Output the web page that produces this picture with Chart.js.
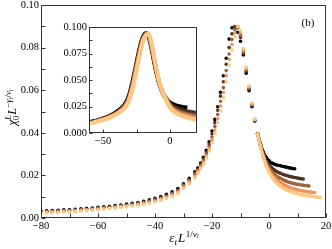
<!DOCTYPE html>
<html><head><meta charset="utf-8">
<script src="https://cdn.jsdelivr.net/npm/chart.js@4/dist/chart.umd.min.js"></script>
<style>
html,body{margin:0;padding:0;background:#fff;}
#wrap{position:relative;width:332px;height:249px;overflow:hidden;}
#main{position:absolute;left:0;top:0;}
#inset{position:absolute;left:55px;top:20px;}
</style>
</head><body>
<div id="wrap"><canvas id="main" width="332" height="249"></canvas><canvas id="inset" width="145" height="130"></canvas></div>
<script>
// ---------- DATA (main panel) ----------
const xMain = [-80,-78,-76,-74,-72,-70,-68,-66,-64,-62,-60,-58,-56,-54,-52,-50,-48,-46,-44,-42,-40,-38,-36,-34,-32,-30,-28,-26,
  -25,-24,-23,-22,-21,-20,-19,-18,-17,-16,-15,-14,-13,-12,-11,-10,-9,-8,-7,-6,-5,-4,-3,-2,-1,0,1,2,3,4,5,6,7,8,9,10,11,12,13,14,15,16,17,18];
const mainS1 = [0.0033,0.0034,0.0035,0.0036,0.0038,0.0039,0.0041,0.0043,0.0045,0.0047,0.0050,0.0052,0.0055,0.0058,0.0061,0.0065,0.0069,0.0073,0.0078,0.0085,0.0092,0.0101,0.0111,0.0123,0.0138,0.0160,0.0186,0.0217,
  0.0235,0.0258,0.0285,0.0318,0.0358,0.0408,0.0463,0.0522,0.0590,0.0668,0.0750,0.0840,0.0893,0.0898,0.0872,0.0830,0.0765,0.0680,0.0598,0.0522,0.0455,0.0397,0.0348,0.0310,0.0285,
  0.0268,0.0258,0.0252,0.0248,0.0245,0.0242,0.0239,0.0236,0.0233,0.0231];
const mainS2 = [0.0030,0.0031,0.0032,0.0033,0.0035,0.0036,0.0038,0.0040,0.0042,0.0044,0.0047,0.0049,0.0052,0.0055,0.0058,0.0062,0.0066,0.0070,0.0075,0.0081,0.0088,0.0097,0.0106,0.0118,0.0133,0.0156,0.0181,0.0211,
  0.0230,0.0253,0.0279,0.0310,0.0348,0.0395,0.0448,0.0506,0.0572,0.0640,0.0722,0.0800,0.0865,0.0897,0.0893,0.0848,0.0772,0.0688,0.0604,0.0527,0.0458,0.0396,0.0342,0.0300,0.0270,
  0.0250,0.0235,0.0224,0.0216,0.0210,0.0204,0.0200,0.0196,0.0193,0.0190,0.0188,0.0185,0.0183];
const mainS3 = [0.0028,0.0029,0.0030,0.0031,0.0033,0.0034,0.0036,0.0038,0.0040,0.0042,0.0045,0.0047,0.0050,0.0053,0.0056,0.0059,0.0063,0.0067,0.0072,0.0078,0.0085,0.0093,0.0102,0.0114,0.0128,0.0152,0.0176,0.0205,
  0.0224,0.0246,0.0271,0.0301,0.0337,0.0380,0.0430,0.0486,0.0548,0.0612,0.0692,0.0770,0.0838,0.0885,0.0898,0.0858,0.0780,0.0695,0.0610,0.0532,0.0460,0.0395,0.0340,0.0295,0.0260,
  0.0236,0.0218,0.0204,0.0194,0.0186,0.0179,0.0173,0.0168,0.0164,0.0161,0.0158,0.0156,0.0154,0.0152,0.0150];
const mainS4 = [0.0026,0.0027,0.0028,0.0029,0.0031,0.0032,0.0034,0.0036,0.0038,0.0040,0.0042,0.0044,0.0047,0.0050,0.0053,0.0056,0.0060,0.0064,0.0068,0.0074,0.0080,0.0088,0.0097,0.0108,0.0122,0.0145,0.0168,0.0197,
  0.0218,0.0239,0.0263,0.0292,0.0326,0.0366,0.0413,0.0466,0.0526,0.0590,0.0668,0.0745,0.0815,0.0870,0.0900,0.0868,0.0788,0.0702,0.0616,0.0536,0.0462,0.0394,0.0338,0.0290,0.0252,
  0.0225,0.0204,0.0188,0.0176,0.0166,0.0158,0.0151,0.0145,0.0140,0.0136,0.0132,0.0129,0.0127,0.0125,0.0123,0.0121,0.0120];
const mainS5 = [0.0023,0.0024,0.0025,0.0026,0.0028,0.0029,0.0031,0.0033,0.0035,0.0037,0.0039,0.0041,0.0044,0.0047,0.0050,0.0053,0.0056,0.0060,0.0064,0.0069,0.0075,0.0083,0.0092,0.0102,0.0116,0.0138,0.0160,0.0188,
  0.0212,0.0232,0.0255,0.0283,0.0315,0.0353,0.0397,0.0447,0.0504,0.0565,0.0640,0.0718,0.0790,0.0852,0.0898,0.0878,0.0796,0.0708,0.0621,0.0540,0.0464,0.0394,0.0336,0.0285,0.0245,
  0.0215,0.0192,0.0174,0.0160,0.0149,0.0140,0.0133,0.0127,0.0122,0.0118,0.0114,0.0111,0.0108,0.0106,0.0104,0.0102,0.0100,0.0098,0.0097];
const mainXTicks = [-80,-70,-60,-50,-40,-30,-20,-10,0,10,20];
const mainXLabels = [-80,-60,-40,-20,0,20];
const mainYTicks = [0,0.01,0.02,0.03,0.04,0.05,0.06,0.07,0.08,0.09,0.10];
const mainYLabels = [0,0.02,0.04,0.06,0.08,0.10];

// ---------- DATA (inset) ----------
const xInset = [-62,-58,-54,-50,-46,-42,-38,-35,-32,-30,-28,-26,-24,-22,-20,-18,-17,-16,-14,-12,-10,-8,-6,-4,-2,0,2,4,7,10,13,16,19,22];
const insetS1 = [0.0098,0.0109,0.0121,0.0137,0.0157,0.0182,0.0218,0.0252,0.0310,0.0382,0.0483,0.0600,0.0725,0.0835,0.0912,0.0940,0.0935,0.0910,0.0810,0.0680,0.0560,0.0465,0.0395,0.0348,0.0312,0.0288,0.0275,0.0264,0.0253,0.0245,0.0240];
const insetS2 = [0.0095,0.0106,0.0118,0.0134,0.0153,0.0177,0.0212,0.0244,0.0299,0.0368,0.0466,0.0582,0.0708,0.0820,0.0903,0.0937,0.0937,0.0918,0.0822,0.0692,0.0568,0.0470,0.0397,0.0347,0.0305,0.0275,0.0255,0.0240,0.0225,0.0213,0.0205,0.0198,0.0192,0.0188];
const insetS3 = [0.0092,0.0103,0.0115,0.0130,0.0149,0.0172,0.0205,0.0236,0.0288,0.0355,0.0450,0.0565,0.0690,0.0805,0.0893,0.0932,0.0938,0.0925,0.0835,0.0705,0.0578,0.0475,0.0398,0.0345,0.0300,0.0262,0.0238,0.0220,0.0202,0.0188,0.0178,0.0170,0.0164,0.0160];
const insetS4 = [0.0089,0.0100,0.0112,0.0126,0.0145,0.0167,0.0198,0.0228,0.0277,0.0342,0.0434,0.0548,0.0672,0.0790,0.0882,0.0927,0.0937,0.0930,0.0848,0.0718,0.0588,0.0480,0.0400,0.0344,0.0295,0.0250,0.0225,0.0205,0.0185,0.0172,0.0160,0.0150,0.0143,0.0138];
const insetS5 = [0.0086,0.0097,0.0109,0.0123,0.0141,0.0162,0.0192,0.0220,0.0266,0.0329,0.0418,0.0530,0.0655,0.0775,0.0870,0.0920,0.0935,0.0933,0.0860,0.0730,0.0598,0.0485,0.0402,0.0343,0.0290,0.0240,0.0212,0.0192,0.0170,0.0158,0.0145,0.0135,0.0126,0.0120];
const insetXTicks = [-50,-25,0];
const insetXLabels = [-50,0];
const insetYTicks = [0,0.0125,0.025,0.0375,0.05,0.0625,0.075,0.0875,0.1];
const insetYLabels = [0,0.025,0.05,0.075,0.1];

// ---------- STYLE ----------
const SERIF = '"Liberation Serif","DejaVu Serif",serif';
const COLORS = ['#000000','#4f3220','#9e6440','#ed9560','#ffc77f'];
const TICKFONT = {family: SERIF, size: 10.5};

function has(list, v){ return list.some(u => Math.abs(u - v) < 1e-9); }
function fmtNum(v, d){ const s = Math.abs(v).toFixed(d); return (v < -1e-12 ? '\u2212' : '') + s; }

const SZ = {n:1, b:0.7, p:0.7, pb:0.5};
const SH = {n:0, b:0.25, p:-0.42, pb:-0.28};
function fontFor(p, size, k){ return (p.i ? 'italic ' : '') + (size*SZ[k]).toFixed(1) + 'px ' + SERIF; }
function richWidth(ctx, parts, size){
  let w = 0;
  parts.forEach(p => {
    if (p.stack){ let m=0; p.stack.forEach((q,j)=>{ ctx.font=fontFor(q,size,j?'p':'b'); m=Math.max(m,ctx.measureText(q.t).width); }); w += m + (p.gap||0); }
    else { ctx.font=fontFor(p,size,p.k); w += ctx.measureText(p.t).width + (p.gap||0); }
  });
  return w;
}
function drawRich(ctx, parts, x, y, size){
  ctx.textAlign='left'; ctx.textBaseline='alphabetic'; ctx.fillStyle='#000';
  let cx = x;
  parts.forEach(p => {
    if (p.stack){ let m=0; p.stack.forEach((q,j)=>{ const k=j?'p':'b'; ctx.font=fontFor(q,size,k); ctx.fillText(q.t,cx,y+SH[k]*size); m=Math.max(m,ctx.measureText(q.t).width); }); cx += m + (p.gap||0); }
    else { ctx.font=fontFor(p,size,p.k); ctx.fillText(p.t,cx,y+SH[p.k]*size); cx += ctx.measureText(p.t).width + (p.gap||0); }
  });
}
const yTitle = [{t:'\u03C7',k:'n',i:1},{stack:[{t:'0'},{t:'L',i:1}],gap:0.5},{t:'L',k:'n',i:1},{t:'\u2212',k:'p'},{t:'\u03B3',k:'p',i:1},{t:'l',k:'pb',i:1},{t:'/',k:'p'},{t:'\u03BD',k:'p',i:1},{t:'l',k:'pb',i:1}];
const xTitle = [{t:'\u03B5',k:'n',i:1},{t:'t',k:'b',i:1,gap:1},{t:'L',k:'n',i:1,gap:0.5},{t:'1/',k:'p'},{t:'\u03BD',k:'p',i:1},{t:'l',k:'pb',i:1}];

function axesPlugin(cfg){
  return {
    id: 'axes_' + cfg.name,
    beforeDraw(chart){
      if (!cfg.bg) return;
      const a = chart.chartArea, ctx = chart.ctx;
      ctx.save(); ctx.fillStyle = '#fff'; ctx.fillRect(a.left, a.top, a.right-a.left, a.bottom-a.top); ctx.restore();
    },
    afterDraw(chart){
      const {ctx, chartArea:a, scales} = chart;
      ctx.save();
      ctx.strokeStyle = '#333'; ctx.lineWidth = 1;
      const L = Math.round(a.left)+0.5, R = Math.round(a.right)-0.5, T = Math.round(a.top)+0.5, B = Math.round(a.bottom)-0.5;
      ctx.strokeRect(L, T, R-L, B-T);
      ctx.beginPath();
      cfg.xTicks.forEach(v => { const px = Math.round(scales.x.getPixelForValue(v))+0.5; ctx.moveTo(px, B); ctx.lineTo(px, B - cfg.len); });
      cfg.yTicks.forEach(v => { const py = Math.round(scales.y.getPixelForValue(v))+0.5; ctx.moveTo(L, py); ctx.lineTo(L + cfg.len, py); });
      ctx.stroke();
      if (cfg.extra) cfg.extra(ctx, chart);
      ctx.restore();
    }
  };
}

function scaleOpts(min, max, ticks, labels, dec, isX, size){
  return {
    type: 'linear', min, max,
    afterBuildTicks(s){ s.ticks = ticks.map(v => ({value: v})); },
    afterFit(s){ if (isX) s.height = size; else s.width = size; s.paddingTop=0; s.paddingBottom=0; s.paddingLeft=0; s.paddingRight=0; },
    ticks: { autoSkip:false, maxRotation:0, minRotation:0, padding: 2, color:'#000', font: TICKFONT,
      callback: v => has(labels, v) ? fmtNum(v, dec) : '' },
    grid: { display:false, drawTicks:false },
    border: { display:false }
  };
}

// ---------- MAIN CHART ----------
const mainSeries = [mainS1, mainS2, mainS3, mainS4, mainS5];
const mainDatasets = mainSeries.map((ys, i) => {
  const c = COLORS[i];
  return {
    data: ys.map((v, j) => ({x: xMain[j], y: v})),
    showLine: true, borderColor: c, backgroundColor: c, borderWidth: 3,
    pointRadius: 1.8, pointHoverRadius: 0, pointBorderWidth: 0, pointBackgroundColor: c,
    cubicInterpolationMode: 'monotone', clip: 0, order: 4 - i,
    segment: { borderColor: ctx => ctx.p0.parsed.x >= -4 ? c : 'rgba(0,0,0,0)' }
  };
});

new Chart(document.getElementById('main'), {
  type: 'scatter',
  data: { datasets: mainDatasets },
  options: {
    responsive:false, animation:false, devicePixelRatio:1,
    layout: { padding: { top:5, right:6, left:0, bottom:0 } },
    plugins: { legend:{display:false}, tooltip:{enabled:false} },
    scales: {
      x: scaleOpts(-80, 20, mainXTicks, mainXLabels, 0, true, 31),
      y: scaleOpts(0, 0.10, mainYTicks, mainYLabels, 2, false, 41)
    }
  },
  plugins: [axesPlugin({name:'main', xTicks: mainXTicks, yTicks: mainYTicks, len: 4, extra(ctx, chart){
    const wx = richWidth(ctx, xTitle, 13);
    drawRich(ctx, xTitle, 184 - wx/2, 242, 13);
    const wy = richWidth(ctx, yTitle, 12.5);
    ctx.save(); ctx.translate(16, 107.5); ctx.rotate(-Math.PI/2);
    drawRich(ctx, yTitle, -wy/2, 0, 12.5);
    ctx.restore();
    ctx.font = '11px ' + SERIF; ctx.fillStyle = '#000'; ctx.textAlign = 'center'; ctx.textBaseline = 'middle';
    ctx.fillText('(b)', 308, 23);
  }})]
});

// ---------- INSET CHART ----------
const insetSeries = [insetS1, insetS2, insetS3, insetS4, insetS5];
const insetDatasets = insetSeries.map((ys, i) => ({
  data: ys.map((v, j) => ({x: xInset[j], y: v})),
  showLine: true, borderColor: COLORS[i], backgroundColor: COLORS[i], borderWidth: 4,
  pointRadius: 0, pointHoverRadius: 0,
  cubicInterpolationMode: 'monotone', clip: 0, order: 4 - i
}));

new Chart(document.getElementById('inset'), {
  type: 'scatter',
  data: { datasets: insetDatasets },
  options: {
    responsive:false, animation:false, devicePixelRatio:1,
    layout: { padding: { top:7, right:3, left:0, bottom:0 } },
    plugins: { legend:{display:false}, tooltip:{enabled:false} },
    scales: {
      x: scaleOpts(-60.5, 20.2, insetXTicks, insetXLabels, 0, true, 17),
      y: scaleOpts(0, 0.10, insetYTicks, insetYLabels, 3, false, 34)
    }
  },
  plugins: [axesPlugin({name:'inset', xTicks: insetXTicks, yTicks: insetYTicks, len: 3, bg: true})]
});
</script>
</body></html>
